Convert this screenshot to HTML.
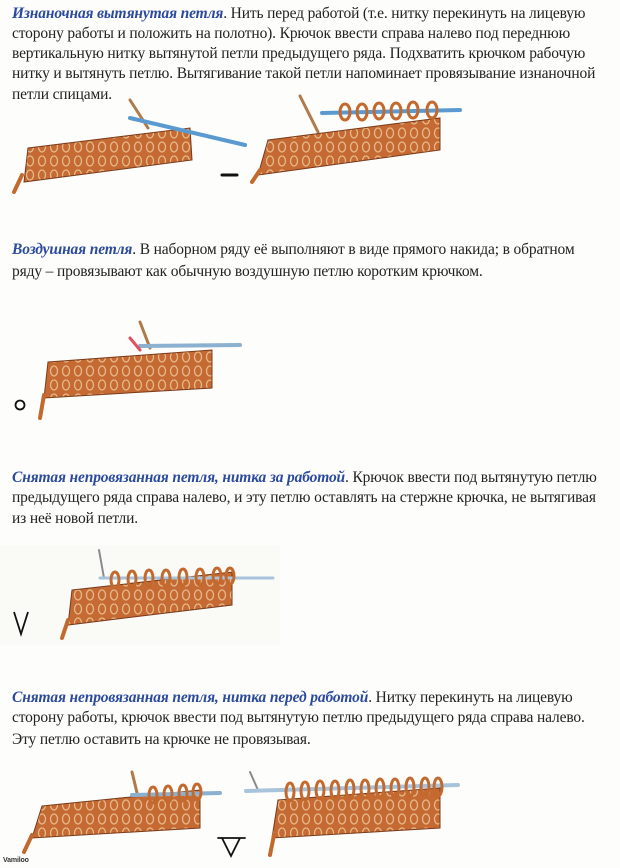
<!DOCTYPE html>
<html><head><meta charset="utf-8">
<style>
html,body{margin:0;padding:0;background:#fdfdfb;}
body{width:620px;height:868px;position:relative;overflow:hidden;font-family:"Liberation Serif",serif;font-size:15.5px;letter-spacing:-0.15px;color:#222;}
.l{position:absolute;left:12px;white-space:nowrap;line-height:20px;height:20px;}
.t{color:#2b4a9e;font-weight:bold;font-style:italic;}
svg{position:absolute;left:0;top:0;}
</style></head><body>
<div class="l" style="top:4px"><span class="t">Изнаночная вытянутая петля</span>. Нить перед работой (т.е. нитку перекинуть на лицевую</div>
<div class="l" style="top:24px">сторону работы и положить на полотно). Крючок ввести справа налево под переднюю</div>
<div class="l" style="top:44px">вертикальную нитку вытянутой петли предыдущего ряда. Подхватить крючком рабочую</div>
<div class="l" style="top:64px">нитку и вытянуть петлю. Вытягивание такой петли напоминает провязывание изнаночной</div>
<div class="l" style="top:85px">петли спицами.</div>

<div class="l" style="top:240px"><span class="t">Воздушная петля</span>. В наборном ряду её выполняют в виде прямого накида; в обратном</div>
<div class="l" style="top:262px">ряду – провязывают как обычную воздушную петлю коротким крючком.</div>

<div class="l" style="top:468px"><span class="t">Снятая непровязанная петля, нитка за работой</span>. Крючок ввести под вытянутую петлю</div>
<div class="l" style="top:488px">предыдущего ряда справа налево, и эту петлю оставлять на стержне крючка, не вытягивая</div>
<div class="l" style="top:509px">из неё новой петли.</div>

<div class="l" style="top:688px"><span class="t">Снятая непровязанная петля, нитка перед работой</span>. Нитку перекинуть на лицевую</div>
<div class="l" style="top:708px">сторону работы, крючок ввести под вытянутую петлю предыдущего ряда справа налево.</div>
<div class="l" style="top:730px">Эту петлю оставить на крючке не провязывая.</div>

<svg width="620" height="868" viewBox="0 0 620 868">
<defs>
<pattern id="st" width="12" height="14" patternUnits="userSpaceOnUse">
<rect width="12" height="14" fill="#c46a32"/>
<ellipse cx="6" cy="7" rx="3.5" ry="5" fill="none" stroke="#e6b88a" stroke-width="1.3"/>
</pattern>
</defs>
<g stroke-linecap="round">
<!-- image 1 -->
<line x1="130" y1="100" x2="148" y2="128" stroke="#b07a4a" stroke-width="3"/>
<polygon points="28,148 190,128 192,160 24,182" fill="url(#st)" stroke="#7a3a1a" stroke-width="1"/>
<line x1="22" y1="175" x2="14" y2="192" stroke="#c4692e" stroke-width="4"/>
<line x1="130" y1="118" x2="245" y2="145" stroke="#5a9ad0" stroke-width="4"/>
<line x1="222" y1="175" x2="237" y2="175" stroke="#111" stroke-width="3"/>
<line x1="300" y1="96" x2="318" y2="132" stroke="#b07a4a" stroke-width="3"/>
<polygon points="268,140 440,118 440,150 258,175" fill="url(#st)" stroke="#7a3a1a" stroke-width="1"/>
<line x1="260" y1="170" x2="252" y2="182" stroke="#c4692e" stroke-width="4"/>
<line x1="322" y1="113" x2="460" y2="110" stroke="#5a9ad0" stroke-width="4"/>
<g fill="none" stroke="#c4692e" stroke-width="3">
<ellipse cx="345" cy="112" rx="5" ry="8"/><ellipse cx="362" cy="112" rx="5" ry="8"/><ellipse cx="379" cy="111" rx="5" ry="8"/><ellipse cx="396" cy="111" rx="5" ry="8"/><ellipse cx="413" cy="110" rx="5" ry="8"/><ellipse cx="432" cy="110" rx="5" ry="8"/>
</g>
<!-- image 2 -->
<line x1="140" y1="322" x2="150" y2="348" stroke="#b07a4a" stroke-width="3"/>
<polygon points="48,362 212,350 212,388 44,398" fill="url(#st)" stroke="#7a3a1a" stroke-width="1"/>
<line x1="44" y1="395" x2="40" y2="418" stroke="#c4692e" stroke-width="4"/>
<line x1="140" y1="346" x2="240" y2="345" stroke="#8bb0d0" stroke-width="4"/>
<line x1="130" y1="338" x2="140" y2="350" stroke="#e05060" stroke-width="3"/>
<circle cx="20" cy="405" r="4.5" fill="none" stroke="#111" stroke-width="1.8"/>
<!-- image 3 -->
<rect x="0" y="545" width="280" height="100" fill="#fafaf7"/>
<line x1="99" y1="550" x2="104" y2="578" stroke="#8a8a8a" stroke-width="2"/>
<polygon points="72,590 232,572 232,605 68,625" fill="url(#st)" stroke="#7a3a1a" stroke-width="1"/>
<line x1="68" y1="620" x2="62" y2="638" stroke="#c4692e" stroke-width="4"/>
<line x1="100" y1="578" x2="273" y2="578" stroke="#a8c4dc" stroke-width="3"/>
<g fill="none" stroke="#c4692e" stroke-width="3">
<ellipse cx="115" cy="580" rx="4" ry="8"/><ellipse cx="132" cy="579" rx="4" ry="8"/><ellipse cx="149" cy="578" rx="4" ry="8"/><ellipse cx="166" cy="578" rx="4" ry="8"/><ellipse cx="183" cy="577" rx="4" ry="8"/><ellipse cx="200" cy="577" rx="4" ry="8"/><ellipse cx="217" cy="576" rx="4" ry="8"/><ellipse cx="230" cy="576" rx="4" ry="8"/>
</g>
<polyline points="14,612 21,634 28,612" fill="none" stroke="#111" stroke-width="1.8" stroke-linecap="butt"/>
<!-- image 4 -->
<line x1="132" y1="772" x2="138" y2="797" stroke="#b07a4a" stroke-width="3"/>
<polygon points="42,806 200,790 200,828 32,838" fill="url(#st)" stroke="#7a3a1a" stroke-width="1"/>
<line x1="32" y1="835" x2="24" y2="852" stroke="#c4692e" stroke-width="4"/>
<line x1="132" y1="795" x2="220" y2="793" stroke="#8bb0d0" stroke-width="4"/>
<g fill="none" stroke="#c4692e" stroke-width="3">
<ellipse cx="153" cy="795" rx="4" ry="8"/><ellipse cx="168" cy="794" rx="4" ry="8"/><ellipse cx="183" cy="793" rx="4" ry="8"/><ellipse cx="197" cy="792" rx="4" ry="8"/>
</g>
<line x1="218" y1="838" x2="245" y2="838" stroke="#111" stroke-width="1.8"/>
<polyline points="222,838 231,856 240,838" fill="none" stroke="#111" stroke-width="1.8" stroke-linecap="butt"/>
<line x1="250" y1="772" x2="258" y2="790" stroke="#8a8a8a" stroke-width="2"/>
<polygon points="278,800 440,788 440,828 272,838" fill="url(#st)" stroke="#7a3a1a" stroke-width="1"/>
<line x1="274" y1="835" x2="270" y2="855" stroke="#c4692e" stroke-width="4"/>
<line x1="246" y1="791" x2="458" y2="785" stroke="#a8c4dc" stroke-width="4"/>
<g fill="none" stroke="#c4692e" stroke-width="3">
<ellipse cx="290" cy="792" rx="4" ry="9"/><ellipse cx="305" cy="791" rx="4" ry="9"/><ellipse cx="320" cy="790" rx="4" ry="9"/><ellipse cx="335" cy="790" rx="4" ry="9"/><ellipse cx="350" cy="789" rx="4" ry="9"/><ellipse cx="365" cy="789" rx="4" ry="9"/><ellipse cx="380" cy="788" rx="4" ry="9"/><ellipse cx="395" cy="788" rx="4" ry="9"/><ellipse cx="410" cy="787" rx="4" ry="9"/><ellipse cx="425" cy="787" rx="4" ry="9"/><ellipse cx="438" cy="787" rx="4" ry="9"/>
</g>
</g>
<text x="3" y="862" font-family="Liberation Sans, sans-serif" font-size="7" font-weight="bold" fill="#333">Vamiloo</text>
</svg>
</body></html>
